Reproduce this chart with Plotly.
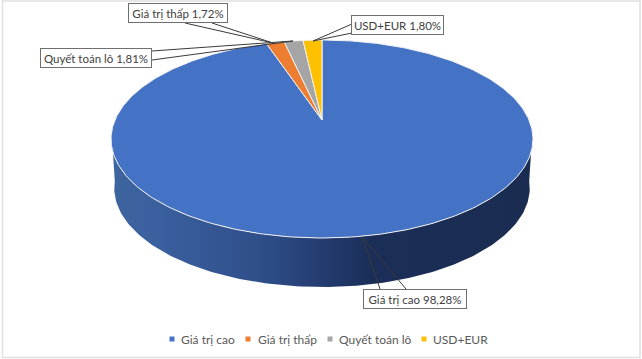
import numpy as np
import plotly.graph_objects as go

categories = ["Giá trị cao", "Giá trị thấp", "Quyết toán lô", "USD+EUR"]
values = [98.28, 1.72, 1.81, 1.80]
colors = ["#4472C4", "#ED7D31", "#A5A5A5", "#FFC000"]
label_texts = ["Giá trị cao 98,28%", "Giá trị thấp 1,72%", "Quyết toán lô 1,81%", "USD+EUR 1,80%"]

W, H = 642, 359
APEX_X, APEX_Y = 322, 120
R, B, K = 207, 95.35, 0.192
DEPTH = 49
FONT = "Lato, Carlito, 'Open Sans', sans-serif"


def rim(theta, scale=1.0, dy=0.0):
    u, v = np.sin(theta), np.cos(theta)
    d = 1 + K * v
    return APEX_X + scale * R * u / d, APEX_Y - B * v / d + dy


fig = go.Figure()

# extruded side, left extreme round the front to the right extreme
t = np.linspace(np.radians(263), np.radians(97), 160)
xt, yt = rim(t)
xb, yb = rim(t[::-1], scale=0.985, dy=DEPTH)
fig.add_trace(go.Scatter(
    x=np.r_[xt, xb], y=np.r_[yt, yb], mode="lines", fill="toself", showlegend=False,
    hoverinfo="skip", line=dict(width=0, color="rgba(0,0,0,0)"),
    fillgradient=dict(type="horizontal", colorscale=[
        [0, "#3e659f"], [0.12, "#3a5f9e"], [0.35, "#2f4f8a"], [0.52, "#223a6c"],
        [0.62, "#1b2e58"], [1, "#1a2c50"]]),
))

# top face, wedges clockwise from twelve o'clock
total = sum(values)
start = 0.0
for name, value, color in zip(categories, values, colors):
    end = start + value / total
    th = np.linspace(start, end, max(6, int(400 * value / total))) * 2 * np.pi
    x, y = rim(th)
    fig.add_trace(go.Scatter(
        x=np.r_[APEX_X, x, APEX_X], y=np.r_[APEX_Y, y, APEX_Y], mode="lines", fill="toself",
        fillcolor=color, line=dict(color="#f2f2f2", width=1), showlegend=False, hoverinfo="skip",
    ))
    start = end

# legend row: marker x, text x
legend_x = [172, 248, 330, 424]
legend_text_x = [179, 256, 337, 431]
annotations = []
for name, color, lx, tx in zip(categories, colors, legend_x, legend_text_x):
    fig.add_trace(go.Scatter(x=[lx], y=[339], mode="markers", name=name,
                             showlegend=False, hoverinfo="skip",
                             marker=dict(symbol="square", size=5, color=color)))
    annotations.append(dict(x=tx, y=339, xref="x", yref="y", text=name, showarrow=False,
                            xanchor="left", yanchor="middle",
                            font=dict(family=FONT, size=12, color="#595959")))

# callout leaders: (base a, base b, tip)
leaders = [
    ((380, 289), (406, 289), (362, 237)),
    ((185, 23), (212, 23), (273, 43)),
    ((152, 51), (152, 60), (293, 41)),
    ((352, 24), (352, 33), (313, 41)),
]
shapes = [dict(type="rect", xref="x", yref="y", x0=2.5, y0=1, x1=640, y1=357.5,
               line=dict(color="#e0e0e0", width=1.5), layer="below")]
for a, b, tip in leaders:
    shapes.append(dict(type="path", xref="x", yref="y",
                       path=f"M{a[0]},{a[1]} L{tip[0]},{tip[1]} L{b[0]},{b[1]}",
                       line=dict(color="#3a3a3a", width=1)))

# label boxes: centre x, centre y, width, height
boxes = [(415, 299, 104, 20), (178, 13, 100, 20), (96, 58, 112, 20), (397, 25, 93, 20)]
for text, (cx, cy, w, h) in zip(label_texts, boxes):
    annotations.append(dict(x=cx, y=cy, xref="x", yref="y", text=text, showarrow=False,
                            width=w - 2, height=h - 2, align="center", valign="middle",
                            bgcolor="white", bordercolor="#6f6f6f", borderwidth=1, borderpad=0,
                            font=dict(family=FONT, size=11.5, color="#404040")))

fig.update_layout(
    width=W, height=H, margin=dict(l=0, r=0, t=0, b=0),
    paper_bgcolor="white", plot_bgcolor="white", showlegend=False,
    xaxis=dict(range=[0, W], visible=False, fixedrange=True),
    yaxis=dict(range=[H, 0], visible=False, fixedrange=True),
    shapes=shapes, annotations=annotations,
)
fig.write_html("out.html", config=dict(displayModeBar=False),
               post_script="document.body.style.margin='0';document.body.style.overflow='hidden';")
